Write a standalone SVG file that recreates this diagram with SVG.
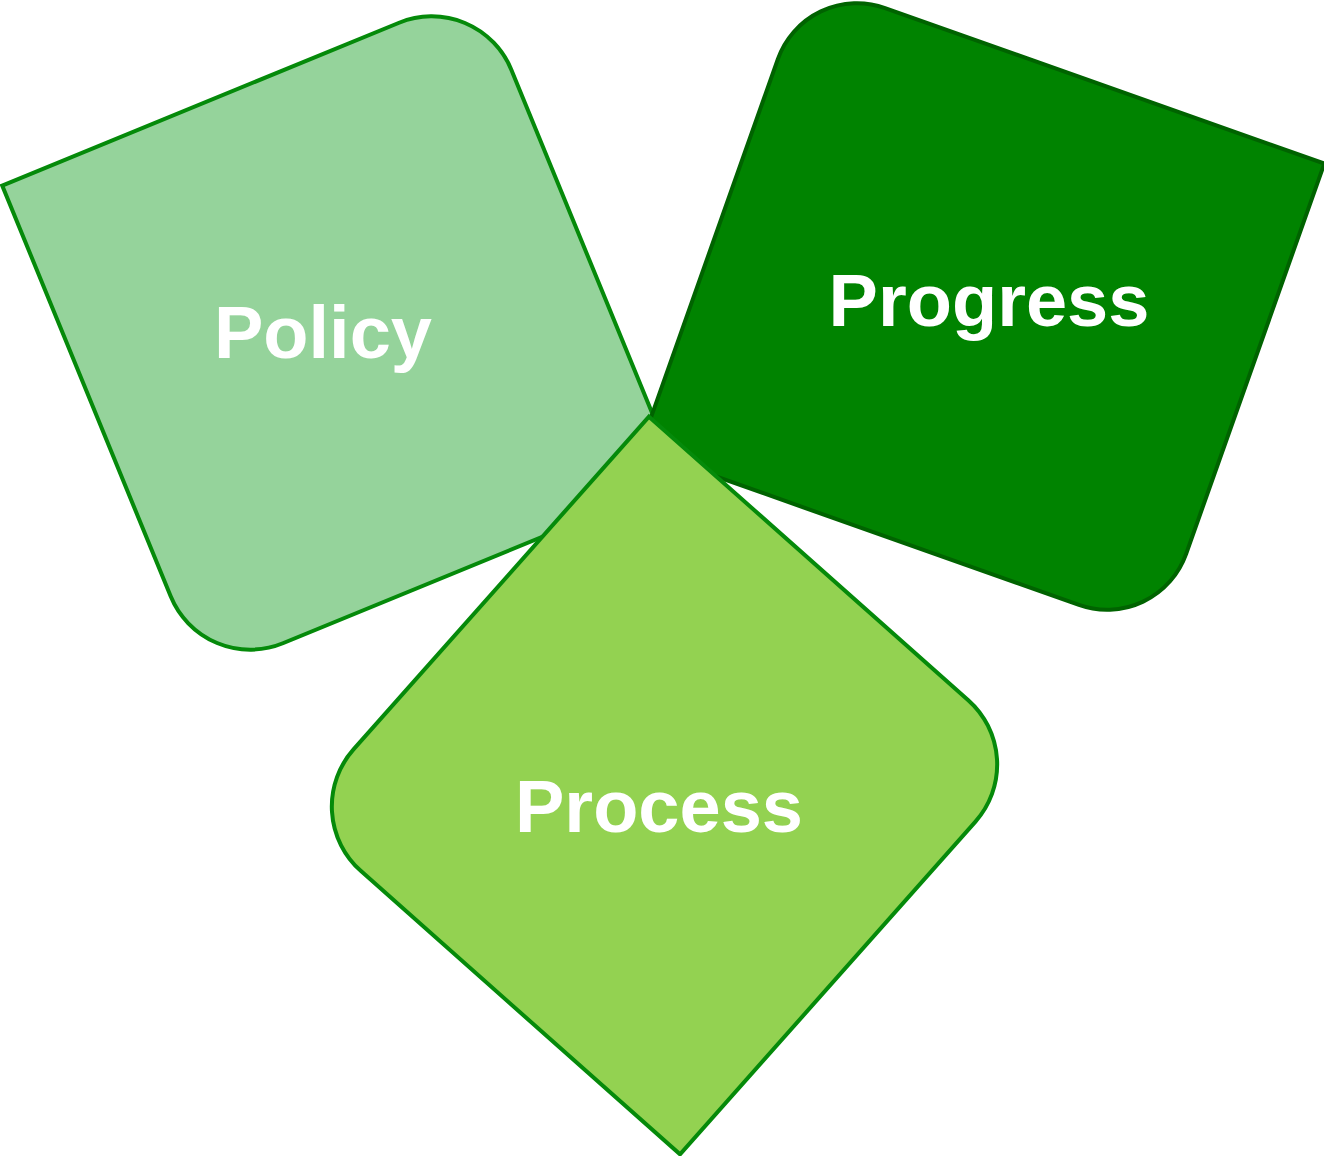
<svg xmlns="http://www.w3.org/2000/svg" width="1324" height="1156" viewBox="0 0 1324 1156">
<style>
.lbl{font-family:"Liberation Sans",Arial,sans-serif;font-weight:bold;font-size:74px;fill:#ffffff;text-anchor:middle}
.sh{stroke-width:4;stroke-linejoin:miter}
</style>
<rect width="1324" height="1156" fill="#ffffff"/>
<g id="policy">
<path class="sh" transform="translate(341,333) rotate(-22.3)" d="M -257.5,-265 L 171.5,-265 A 86 86 0 0 1 257.5,-179 L 257.5,265 L -171.5,265 A 86 86 0 0 1 -257.5,179 Z" fill="#95d39b" stroke="#058a0a"/>
<text class="lbl" x="323" y="358">Policy</text>
</g>
<g id="progress">
<path class="sh" transform="translate(982,306.5) rotate(19.5)" d="M -275,-165 A 84 84 0 0 1 -191,-249 L 275,-249 L 275,165 A 84 84 0 0 1 191,249 L -275,249 Z" fill="#008300" stroke="#006300"/>
<text class="lbl" x="989" y="326">Progress</text>
</g>
<g id="process">
<path class="sh" transform="translate(664.5,785.5) rotate(41.6)" d="M -256.5,-265.5 L 170.5,-265.5 A 86 86 0 0 1 256.5,-179.5 L 256.5,265.5 L -170.5,265.5 A 86 86 0 0 1 -256.5,179.5 Z" fill="#93d251" stroke="#058a0a"/>
<text class="lbl" x="659" y="832">Process</text>
</g>
<g id="connectors"/>
</svg>
